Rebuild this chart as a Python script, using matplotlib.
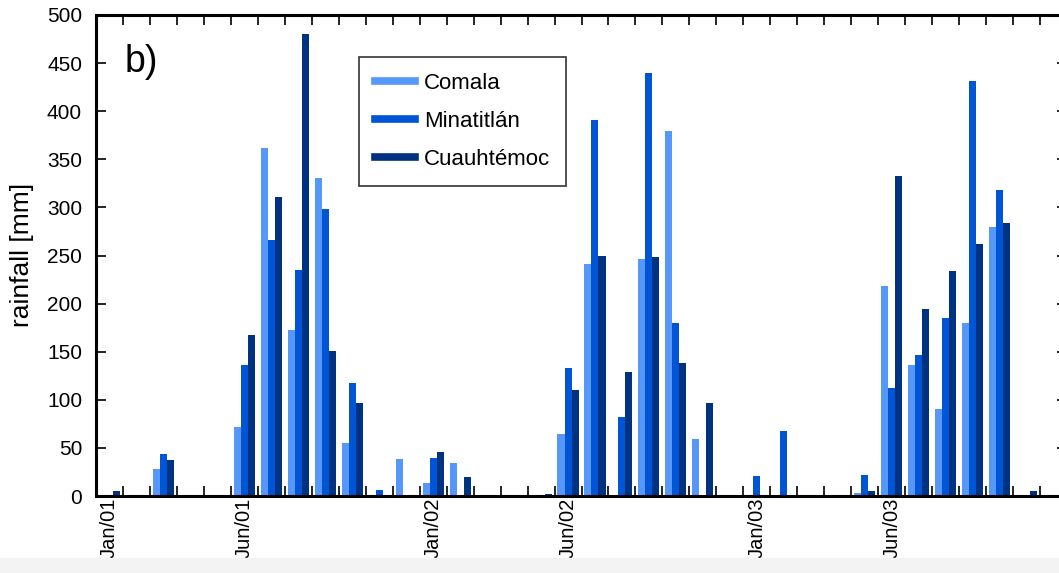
import matplotlib
matplotlib.use("Agg")
import matplotlib.pyplot as plt
from matplotlib.lines import Line2D
from matplotlib.patches import Rectangle
import numpy as np

plt.rcParams['font.family'] = ['Liberation Sans', 'DejaVu Sans']

months = ['Jan/01','Feb/01','Mar/01','Apr/01','May/01','Jun/01','Jul/01','Aug/01','Sep/01','Oct/01','Nov/01','Dec/01',
          'Jan/02','Feb/02','Mar/02','Apr/02','May/02','Jun/02','Jul/02','Aug/02','Sep/02','Oct/02','Nov/02','Dec/02',
          'Jan/03','Feb/03','Mar/03','Apr/03','May/03','Jun/03','Jul/03','Aug/03','Sep/03','Oct/03','Nov/03','Dec/03']
comala = [0, 0, 28, 0, 0, 72, 362, 173, 331, 55, 0, 38,
          13, 34, 0, 0, 0, 64, 241, 0, 246, 379, 59, 0,
          0, 0, 0, 0, 3, 218, 136, 90, 180, 280, 0, 0]
minatitlan = [0, 0, 44, 0, 0, 136, 266, 235, 298, 117, 6, 0,
              39, 0, 0, 0, 0, 133, 391, 82, 440, 180, 0, 0,
              21, 68, 0, 0, 22, 112, 147, 185, 431, 318, 0, 0]
cuauhtemoc = [5, 0, 37, 0, 0, 167, 311, 480, 151, 97, 0, 0,
              46, 20, 0, 0, 2, 110, 250, 129, 248, 138, 97, 0,
              0, 0, 0, 0, 5, 333, 194, 234, 262, 284, 5, 0]
series_names = ['Comala', 'Minatitlán', 'Cuauhtémoc']
colors = ['#5598fa', '#0054d6', '#003282']
labeled = ['Jan/01', 'Jun/01', 'Jan/02', 'Jun/02', 'Jan/03', 'Jun/03']

W, H = 1059, 573
fig = plt.figure(figsize=(W/100, H/100), dpi=100)
fig.patches.append(Rectangle((0, 0), 1, 15/H, transform=fig.transFigure,
                             color='#f3f3f3', zorder=0))
ax = fig.add_axes([96/W, (H-496)/H, 971/W, 481/H])

x = np.arange(len(months)) + 0.5
bw = 0.26
for k, (vals, c) in enumerate(zip([comala, minatitlan, cuauhtemoc], colors)):
    ax.bar(x + (k-1)*bw, vals, width=bw, color=c, linewidth=0, zorder=2)

ax.set_xlim(0, len(months))
ax.set_ylim(0, 500)
ax.set_yticks(np.arange(0, 501, 50))
ax.set_xticks([x[months.index(m)] for m in labeled])
ax.set_xticklabels(labeled, rotation=90, fontsize=14.5)
ax.set_xticks(np.arange(1, len(months)), minor=True)
ax.tick_params(axis='x', which='major', length=0, pad=1)
ax.tick_params(axis='x', which='minor', direction='in', length=7, width=1.2, top=True, bottom=True)
ax.tick_params(axis='y', which='major', direction='in', length=7, width=1.2, left=True, right=True,
               labelsize=15, pad=10)
for s in ax.spines.values():
    s.set_linewidth(2.2)
    s.set_zorder(5)
fig.text(22/W, 1 - 255/H, 'rainfall [mm]', rotation=90, fontsize=19,
         ha='center', va='center')

ax.text((125-96)/971, 1 - (62-15)/481, 'b)', transform=ax.transAxes,
        fontsize=27, va='center', ha='left')

handles = [Line2D([0], [0], color=c, lw=5.5) for c in colors]
leg = ax.legend(handles, series_names, loc='upper left', bbox_to_anchor=((359-96)/971, (496-57)/481),
                fontsize=16, frameon=True, fancybox=False, edgecolor='black',
                handlelength=1.8, labelspacing=0.77, borderpad=0.72, handletextpad=0.4,
                borderaxespad=0)
leg.get_frame().set_linewidth(1.2)

fig.savefig('out.png', dpi=100)
